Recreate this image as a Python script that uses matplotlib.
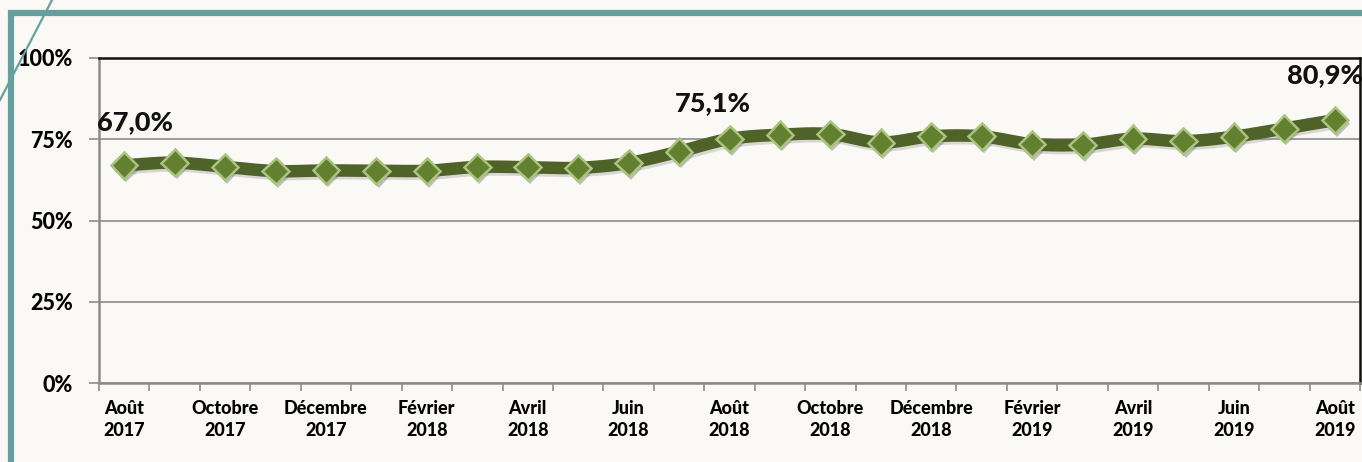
import numpy as np
import matplotlib
matplotlib.use("Agg")
import matplotlib.pyplot as plt
import matplotlib.patheffects as pe
from matplotlib.lines import Line2D

plt.rcParams['font.family'] = ['Lato', 'DejaVu Sans']

# données : taux mensuel, août 2017 -> août 2019
mois = ["Août\n2017", "Septembre\n2017", "Octobre\n2017", "Novembre\n2017", "Décembre\n2017",
        "Janvier\n2018", "Février\n2018", "Mars\n2018", "Avril\n2018", "Mai\n2018",
        "Juin\n2018", "Juillet\n2018", "Août\n2018", "Septembre\n2018", "Octobre\n2018",
        "Novembre\n2018", "Décembre\n2018", "Janvier\n2019", "Février\n2019", "Mars\n2019",
        "Avril\n2019", "Mai\n2019", "Juin\n2019", "Juillet\n2019", "Août\n2019"]
taux = [67.0, 67.8, 66.5, 65.2, 65.4, 65.3, 65.3, 66.5, 66.4, 66.2,
        67.7, 71.2, 75.1, 76.4, 76.6, 74.0, 75.9, 75.9, 73.5, 73.3,
        75.2, 74.4, 75.8, 78.3, 80.9]
etiquettes = {0: "67,0%", 12: "75,1%", 24: "80,9%"}
yticks = [0, 25, 50, 75, 100]

BG = "#faf9f5"
LINE = "#4f6228"
TEAL = "#66a09e"
W = "black"


def catmull_rom(x, y, n=20):
    # courbe lissée façon Excel passant par chaque point
    x = np.asarray(x, float)
    y = np.asarray(y, float)
    px = np.concatenate([[2 * x[0] - x[1]], x, [2 * x[-1] - x[-2]]])
    py = np.concatenate([[2 * y[0] - y[1]], y, [2 * y[-1] - y[-2]]])
    xs, ys = [], []
    t = np.linspace(0, 1, n, endpoint=False)
    for i in range(1, len(px) - 2):
        for p, out in ((px, xs), (py, ys)):
            p0, p1, p2, p3 = p[i - 1], p[i], p[i + 1], p[i + 2]
            out.extend(0.5 * ((2 * p1) + (-p0 + p2) * t
                              + (2 * p0 - 5 * p1 + 4 * p2 - p3) * t ** 2
                              + (-p0 + 3 * p1 - 3 * p2 + p3) * t ** 3))
    xs.append(x[-1])
    ys.append(y[-1])
    return np.array(xs), np.array(ys)


fig = plt.figure(figsize=(13.62, 4.62), dpi=100, facecolor=BG)
ax = fig.add_axes([99 / 1362, 79 / 462, 1261 / 1362, 325 / 462])
ax.set_facecolor(BG)

# cadre décoratif
fig.add_artist(Line2D([8 / 1362, 1.0], [1 - 12.5 / 462] * 2, color=TEAL, lw=4.5,
                      transform=fig.transFigure, solid_capstyle="butt"))
fig.add_artist(Line2D([10.7 / 1362] * 2, [0, 1 - 10 / 462], color=TEAL, lw=4.5,
                      transform=fig.transFigure, solid_capstyle="butt"))
fig.add_artist(Line2D([52 / 1362, 0], [1.0, 1 - 100 / 462], color=TEAL, lw=1.6,
                      transform=fig.transFigure))

x = np.arange(len(taux))
sx, sy = catmull_rom(x, taux)
ax.plot(sx, sy, color=LINE, lw=9, solid_capstyle="round", zorder=3,
        path_effects=[pe.SimpleLineShadow(offset=(1.5, -2), shadow_color="#999999", alpha=0.35),
                      pe.Normal()])
ax.plot(x, taux, linestyle="none", marker="D", markersize=13.5, color="#62802f",
        markeredgecolor="#a9c47f", markeredgewidth=1.8, zorder=4,
        path_effects=[pe.SimplePatchShadow(offset=(1.5, -2.5), shadow_rgbFace="#555555", alpha=0.35),
                      pe.Normal()])

offsets = {0: (0.22, 80.3), 12: (11.68, 86.2), 24: (23.8, 94.8)}
for i, txt in etiquettes.items():
    tx, ty = offsets[i]
    ax.text(tx, ty, txt, ha="center", va="center", fontsize=19.5, fontweight=W,
            color="#111111", clip_on=False)

ax.set_xlim(-0.5, len(taux) - 0.5)
ax.set_ylim(0, 100)

ax.set_yticks(yticks)
ax.set_yticklabels([f"{v}%" for v in yticks], fontsize=15.5, fontweight=W)
ax.yaxis.grid(True, color="#8c8c8c", lw=1.2)
ax.set_axisbelow(True)
ax.tick_params(axis="y", length=7, width=1.2, color="#8c8c8c", pad=12)

ax.set_xticks(x[::2])
ax.set_xticklabels(mois[::2], fontsize=13, fontweight=W, linespacing=1.4)
ax.set_xticks(np.arange(len(taux) + 1) - 0.5, minor=True)
ax.tick_params(axis="x", which="major", length=0, pad=12)
ax.tick_params(axis="x", which="minor", length=6, width=1.2, color="#8c8c8c")

for s in ("left", "bottom"):
    ax.spines[s].set_color("#8c8c8c")
    ax.spines[s].set_linewidth(1.8)
for s in ("top", "right"):
    ax.spines[s].set_color("#111111")
    ax.spines[s].set_linewidth(1.8)

fig.savefig("out.png", dpi=100, facecolor=BG)
